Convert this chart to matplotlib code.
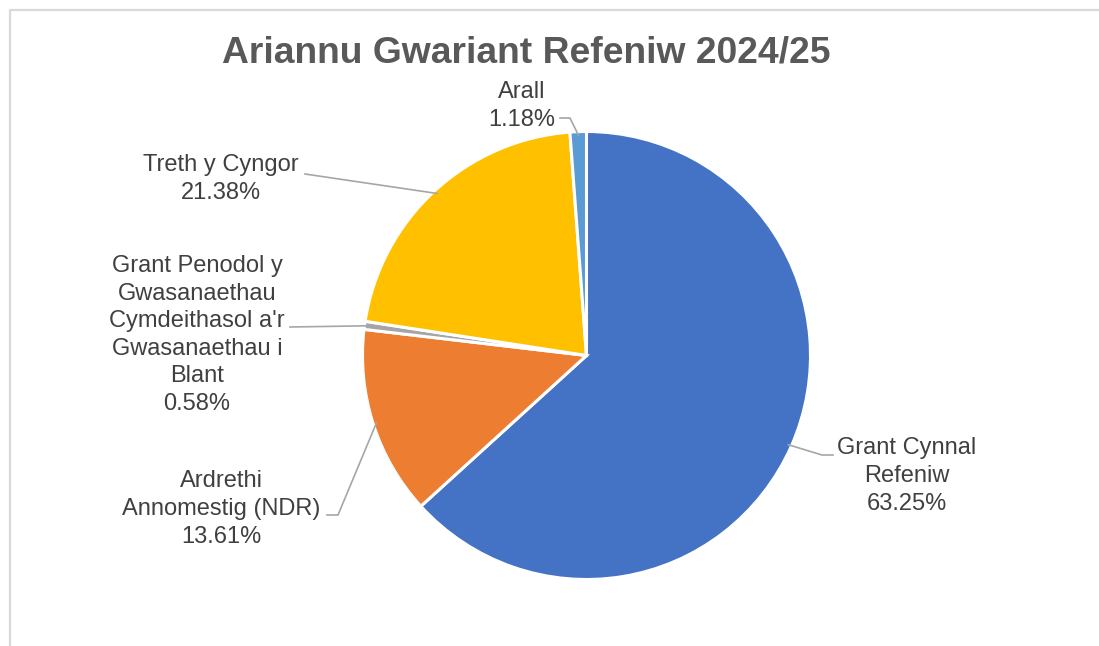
import matplotlib
matplotlib.use("Agg")
import matplotlib.pyplot as plt
import numpy as np

title = "Ariannu Gwariant Refeniw 2024/25"
categories = ["Grant Cynnal\nRefeniw", "Ardrethi\nAnnomestig (NDR)",
              "Grant Penodol y\nGwasanaethau\nCymdeithasol a'r\nGwasanaethau i\nBlant",
              "Treth y Cyngor", "Arall"]
values = [63.25, 13.61, 0.58, 21.38, 1.18]
colors = ["#4472C4", "#ED7D31", "#A5A5A5", "#FFC000", "#5B9BD5"]

W, H = 1099, 646
fig = plt.figure(figsize=(W / 100, H / 100), dpi=100)
ax = fig.add_axes([0, 0, 1, 1])

plt.rcParams['font.family'] = ['Liberation Sans', 'DejaVu Sans']

cx, cy, R = 586.5, H - 355.5, 224
wedges, _ = ax.pie(values, colors=colors, startangle=90, counterclock=False,
                   center=(cx, cy), radius=R, frame=True,
                   wedgeprops=dict(edgecolor="white", linewidth=2.2))
ax.set_xlim(0, W)
ax.set_ylim(0, H)
ax.set_aspect("equal")
ax.axis("off")

# border
ax.plot([10, 10, W + 5], [-5, H - 10, H - 10], color="#D9D9D9", lw=1.6, solid_capstyle="butt")

ax.text(526, H - 53, title, ha="center", va="center", fontsize=26.8, fontweight="bold",
        color="#595959", family=['Liberation Sans', 'DejaVu Sans'])

# label positions (pixel, center of text block) and leader elbows
label_pos = [(907, 476), (221, 509), (197, 335), (221, 179), (522, 106)]
leaders = [
    [(833, 455), (822, 455)],
    [(327, 515), (338, 515)],
    [(290, 327)],
    [(305, 174)],
    [(560, 118), (570, 118)],
]
txt_color = "#404040"
lead_color = "#A6A6A6"
for w, lab, v, (lx, ly), pts in zip(wedges, categories, values, label_pos, leaders):
    ax.text(lx, H - ly, f"{lab}\n{v:.2f}%", ha="center", va="center", fontsize=17,
            color=txt_color, linespacing=1.33, family=['Liberation Sans', 'DejaVu Sans'])
    mid = np.deg2rad((w.theta1 + w.theta2) / 2)
    ex, ey = cx + R * np.cos(mid) * 0.985, cy + R * np.sin(mid) * 0.985
    xs = [p[0] for p in pts] + [ex]
    ys = [H - p[1] for p in pts] + [ey]
    ax.plot(xs, ys, color=lead_color, lw=1.2)

fig.savefig("out.png", dpi=100, facecolor="white")
